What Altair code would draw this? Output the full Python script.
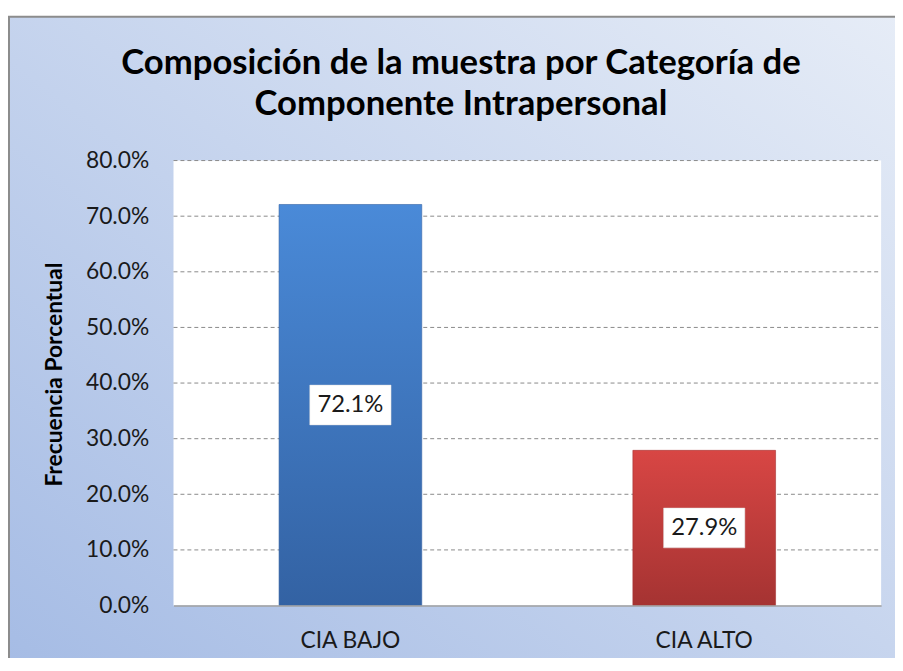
import altair as alt
import pandas as pd

categories = ["CIA BAJO", "CIA ALTO"]
values = [0.721, 0.279]
value_labels = ["72.1%", "27.9%"]
grid_values = [0.1, 0.2, 0.3, 0.4, 0.5, 0.6, 0.7, 0.8]
tick_values = [0, 0.1, 0.2, 0.3, 0.4, 0.5, 0.6, 0.7, 0.8]
title_lines = ["Composición de la muestra por Categoría de", "Componente Intrapersonal"]
y_title = "Frecuencia Porcentual"

W, H = 714, 449
FONT = "Lato"

df = pd.DataFrame({"cat": categories, "val": values, "lab": value_labels})
df["half"] = df["val"] / 2
grid_df = pd.DataFrame({"g": grid_values})
one = alt.Data(values=[{"a": 1}])

yscale = alt.Scale(domain=[0, 0.8], nice=False, zero=True)
xscale = alt.Scale(domain=categories, paddingInner=0, paddingOuter=0)

yaxis = alt.Axis(title=None, format=".1%", values=tick_values,
                 labelFont=FONT, labelFontSize=23, labelColor="#1a1a1a",
                 labelPadding=25, ticks=False, tickSize=0, domain=False,
                 grid=False, zindex=1)
xaxis = alt.Axis(title=None, labelAngle=0, labelFont=FONT, labelFontSize=23,
                 labelColor="#1a1a1a", labelPadding=24, ticks=False, tickSize=0,
                 domainColor="#a0a0a0", domainWidth=1.5, grid=False, zindex=1)

bg = alt.Chart(one).mark_rect(
    fill={"gradient": "linear", "x1": 0, "y1": 1, "x2": 1, "y2": 0,
          "stops": [{"offset": 0, "color": "#a3bae4"}, {"offset": 1, "color": "#e7edf7"}]},
    stroke="#8c8c8c", strokeWidth=2,
).encode(x=alt.value(-166), x2=alt.value(760), y=alt.value(-145), y2=alt.value(560))

plot_bg = alt.Chart(one).mark_rect(fill="white").encode(
    x=alt.value(0), x2=alt.value(W), y=alt.value(0), y2=alt.value(H))

grid = alt.Chart(grid_df).mark_rule(color="#8a8a8a", strokeDash=[4, 3], strokeWidth=1).encode(
    y=alt.Y("g:Q", scale=yscale, axis=yaxis),
    x=alt.value(0), x2=alt.value(W))

def bar_layer(cat, top, bottom):
    return alt.Chart(df).transform_filter(alt.datum.cat == cat).mark_bar(
        size=144,
        color={"gradient": "linear", "x1": 0, "y1": 0, "x2": 0, "y2": 1,
               "stops": [{"offset": 0, "color": top}, {"offset": 1, "color": bottom}]},
        stroke=bottom, strokeWidth=1, strokeOpacity=0.6,
    ).encode(
        x=alt.X("cat:N", scale=xscale, sort=categories, axis=xaxis),
        y=alt.Y("val:Q", scale=yscale, axis=yaxis),
    )

blue = bar_layer("CIA BAJO", "#4a8ad8", "#3362a3")
red = bar_layer("CIA ALTO", "#d84644", "#a53332")

boxes = alt.Chart(df).mark_point(
    shape="M-1,-0.49L1,-0.49L1,0.49L-1,0.49Z", size=82 * 82, filled=True,
    fill="white", opacity=1, stroke="#dddddd", strokeWidth=0.5,
).encode(x=alt.X("cat:N", scale=xscale, sort=categories, axis=xaxis),
         y=alt.Y("half:Q", scale=yscale, axis=yaxis))

texts = alt.Chart(df).mark_text(font=FONT, fontSize=24, color="#1a1a1a", baseline="middle").encode(
    x=alt.X("cat:N", scale=xscale, sort=categories, axis=xaxis),
    y=alt.Y("half:Q", scale=yscale, axis=yaxis), text="lab:N")

title = alt.Chart(one).mark_text(
    font=FONT, fontSize=35, fontWeight="bold", color="#000000", baseline="alphabetic",
    align="center", text=title_lines[0]
).encode(x=alt.value(290), y=alt.value(-87))

title2 = alt.Chart(one).mark_text(
    font=FONT, fontSize=35, fontWeight="bold", color="#000000", baseline="alphabetic",
    align="center", text=title_lines[1]
).encode(x=alt.value(290), y=alt.value(-46))

ytitle = alt.Chart(one).mark_text(
    font=FONT, fontSize=23, fontWeight="bold", color="#000000", angle=270,
    align="center", baseline="middle", text=y_title
).encode(x=alt.value(-120), y=alt.value(216))

chart = alt.layer(bg, plot_bg, grid, blue, red, boxes, texts, title, title2, ytitle).properties(
    width=W, height=H,
    padding={"left": 167, "top": 151, "right": 14, "bottom": 50},
    autosize=alt.AutoSizeParams(type="none"),
).configure_view(stroke=None).configure(background="white")

chart.save("out.html", embed_options={"renderer": "svg", "actions": False})
